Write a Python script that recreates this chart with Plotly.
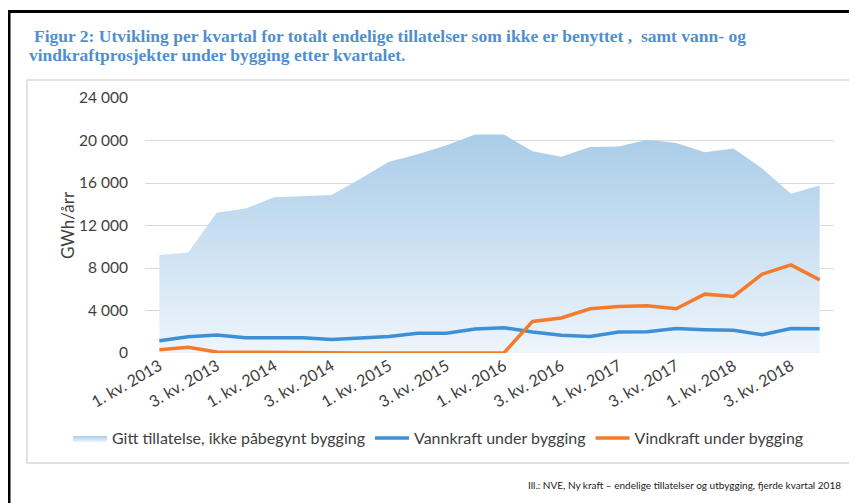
import plotly.graph_objects as go

quarters = [f"{q}. kv. {y}" for y in range(2013, 2019) for q in (1, 2, 3, 4)]
tick_labels = quarters[::2]

gitt_tillatelse = [9230, 9450, 13200, 13600, 14650, 14770, 14860, 16400, 18000, 18700,
                   19550, 20560, 20560, 19000, 18460, 19400, 19430, 20060, 19770, 18900,
                   19240, 17370, 15000, 15770]
vannkraft = [1160, 1530, 1690, 1440, 1440, 1440, 1280, 1410, 1560, 1850,
             1870, 2250, 2380, 1970, 1660, 1560, 1970, 2000, 2310, 2190,
             2130, 1720, 2310, 2280]
vindkraft = [310, 530, 100, 100, 100, 100, 20, 10, 10, 10,
             10, 0, 0, 2970, 3290, 4160, 4380, 4440, 4160, 5540,
             5320, 7420, 8290, 6880]

y_ticks = [0, 4000, 8000, 12000, 16000, 20000, 24000]
y_tick_text = ["0", "4 000", "8 000", "12 000", "16 000", "20 000", "24 000"]

# the page body has an 8px margin, so the figure is 8px smaller than the window
OFF = 8
W, H = 857 - OFF, 503 - OFF
L, R, T, B = 137, 23, 90, 150
PW, PH = W - L - R, H - T - B


def px(x):  # screen x -> paper x
    return (x - OFF - L) / PW


def py(y):  # screen y -> paper y
    return (H - B - (y - OFF)) / PH


fig = go.Figure()
fig.add_trace(go.Scatter(
    x=quarters, y=gitt_tillatelse, mode="lines", fill="tozeroy",
    name="Gitt tillatelse, ikke påbegynt bygging",
    line=dict(width=0, color="#a9cde9"),
    fillcolor="#b7d5ee",
    fillgradient=dict(type="vertical",
                      colorscale=[[0, "#eef5fc"], [1, "#a9cce8"]]),
))
fig.add_trace(go.Scatter(
    x=quarters, y=vannkraft, mode="lines", name="Vannkraft under bygging",
    line=dict(color="#3d8fd6", width=3.5),
))
fig.add_trace(go.Scatter(
    x=quarters, y=vindkraft, mode="lines", name="Vindkraft under bygging",
    line=dict(color="#f37b2c", width=3.5),
))

txt = "#404040"
fig.update_layout(
    width=W, height=H,
    margin=dict(l=L, r=R, t=T, b=B, autoexpand=False),
    paper_bgcolor="white", plot_bgcolor="white",
    font=dict(family="Lato, Open Sans, sans-serif", color=txt, size=15),
    showlegend=True,
    legend=dict(orientation="h", x=px(68), xanchor="left", y=py(438), yanchor="middle",
                font=dict(size=16, color=txt), itemwidth=34, traceorder="normal",
                bgcolor="rgba(0,0,0,0)"),
    xaxis=dict(type="category", range=[-0.5, len(quarters) - 0.5],
               tickvals=tick_labels, ticktext=tick_labels,
               tickangle=-30, showgrid=False, zeroline=False, showline=False,
               ticks="", tickfont=dict(size=16, color=txt)),
    yaxis=dict(range=[0, 24000], tickvals=y_ticks, ticktext=y_tick_text,
               showgrid=True, gridcolor="#d9d9d9", gridwidth=1, zeroline=False,
               showline=False, ticks="outside", ticklen=13, tickcolor="rgba(0,0,0,0)",
               tickfont=dict(size=15.5, color=txt),
               title=dict(text="GWh/årr", font=dict(size=17, color=txt), standoff=0)),
)

shapes = [
    # inner chart frame
    dict(type="rect", xref="paper", yref="paper", x0=px(27), x1=px(855), y0=py(463), y1=py(80),
         line=dict(color="#d9d9d9", width=1.5), fillcolor="rgba(0,0,0,0)", layer="below"),
    # outer black frame (left and top)
    dict(type="line", xref="paper", yref="paper", x0=px(9), x1=px(9), y0=py(10), y1=py(503),
         line=dict(color="black", width=3)),
    dict(type="line", xref="paper", yref="paper", x0=px(8), x1=px(857), y0=py(11.5), y1=py(11.5),
         line=dict(color="black", width=3)),
]
fig.update_layout(shapes=shapes)

title_font = dict(family="Liberation Serif, Times New Roman, serif", size=17.5, color="#4f8fd0")
fig.add_annotation(xref="paper", yref="paper", x=px(32), y=py(36), xanchor="left", yanchor="middle",
                   showarrow=False, font=title_font,
                   text="<b>Figur 2: Utvikling per kvartal for totalt endelige tillatelser som ikke er benyttet ,\u00a0 samt vann- og</b>")
fig.add_annotation(xref="paper", yref="paper", x=px(27), y=py(55), xanchor="left", yanchor="middle",
                   showarrow=False, font=title_font,
                   text="<b>vindkraftprosjekter under bygging etter kvartalet.</b>")
fig.add_annotation(xref="paper", yref="paper", x=px(843), y=py(485), xanchor="right", yanchor="middle",
                   showarrow=False,
                   font=dict(family="Lato, sans-serif", size=10, color="#222222"),
                   text="Ill.: NVE, Ny kraft – endelige tillatelser og utbygging, fjerde kvartal 2018")

fig.write_html("out.html")
